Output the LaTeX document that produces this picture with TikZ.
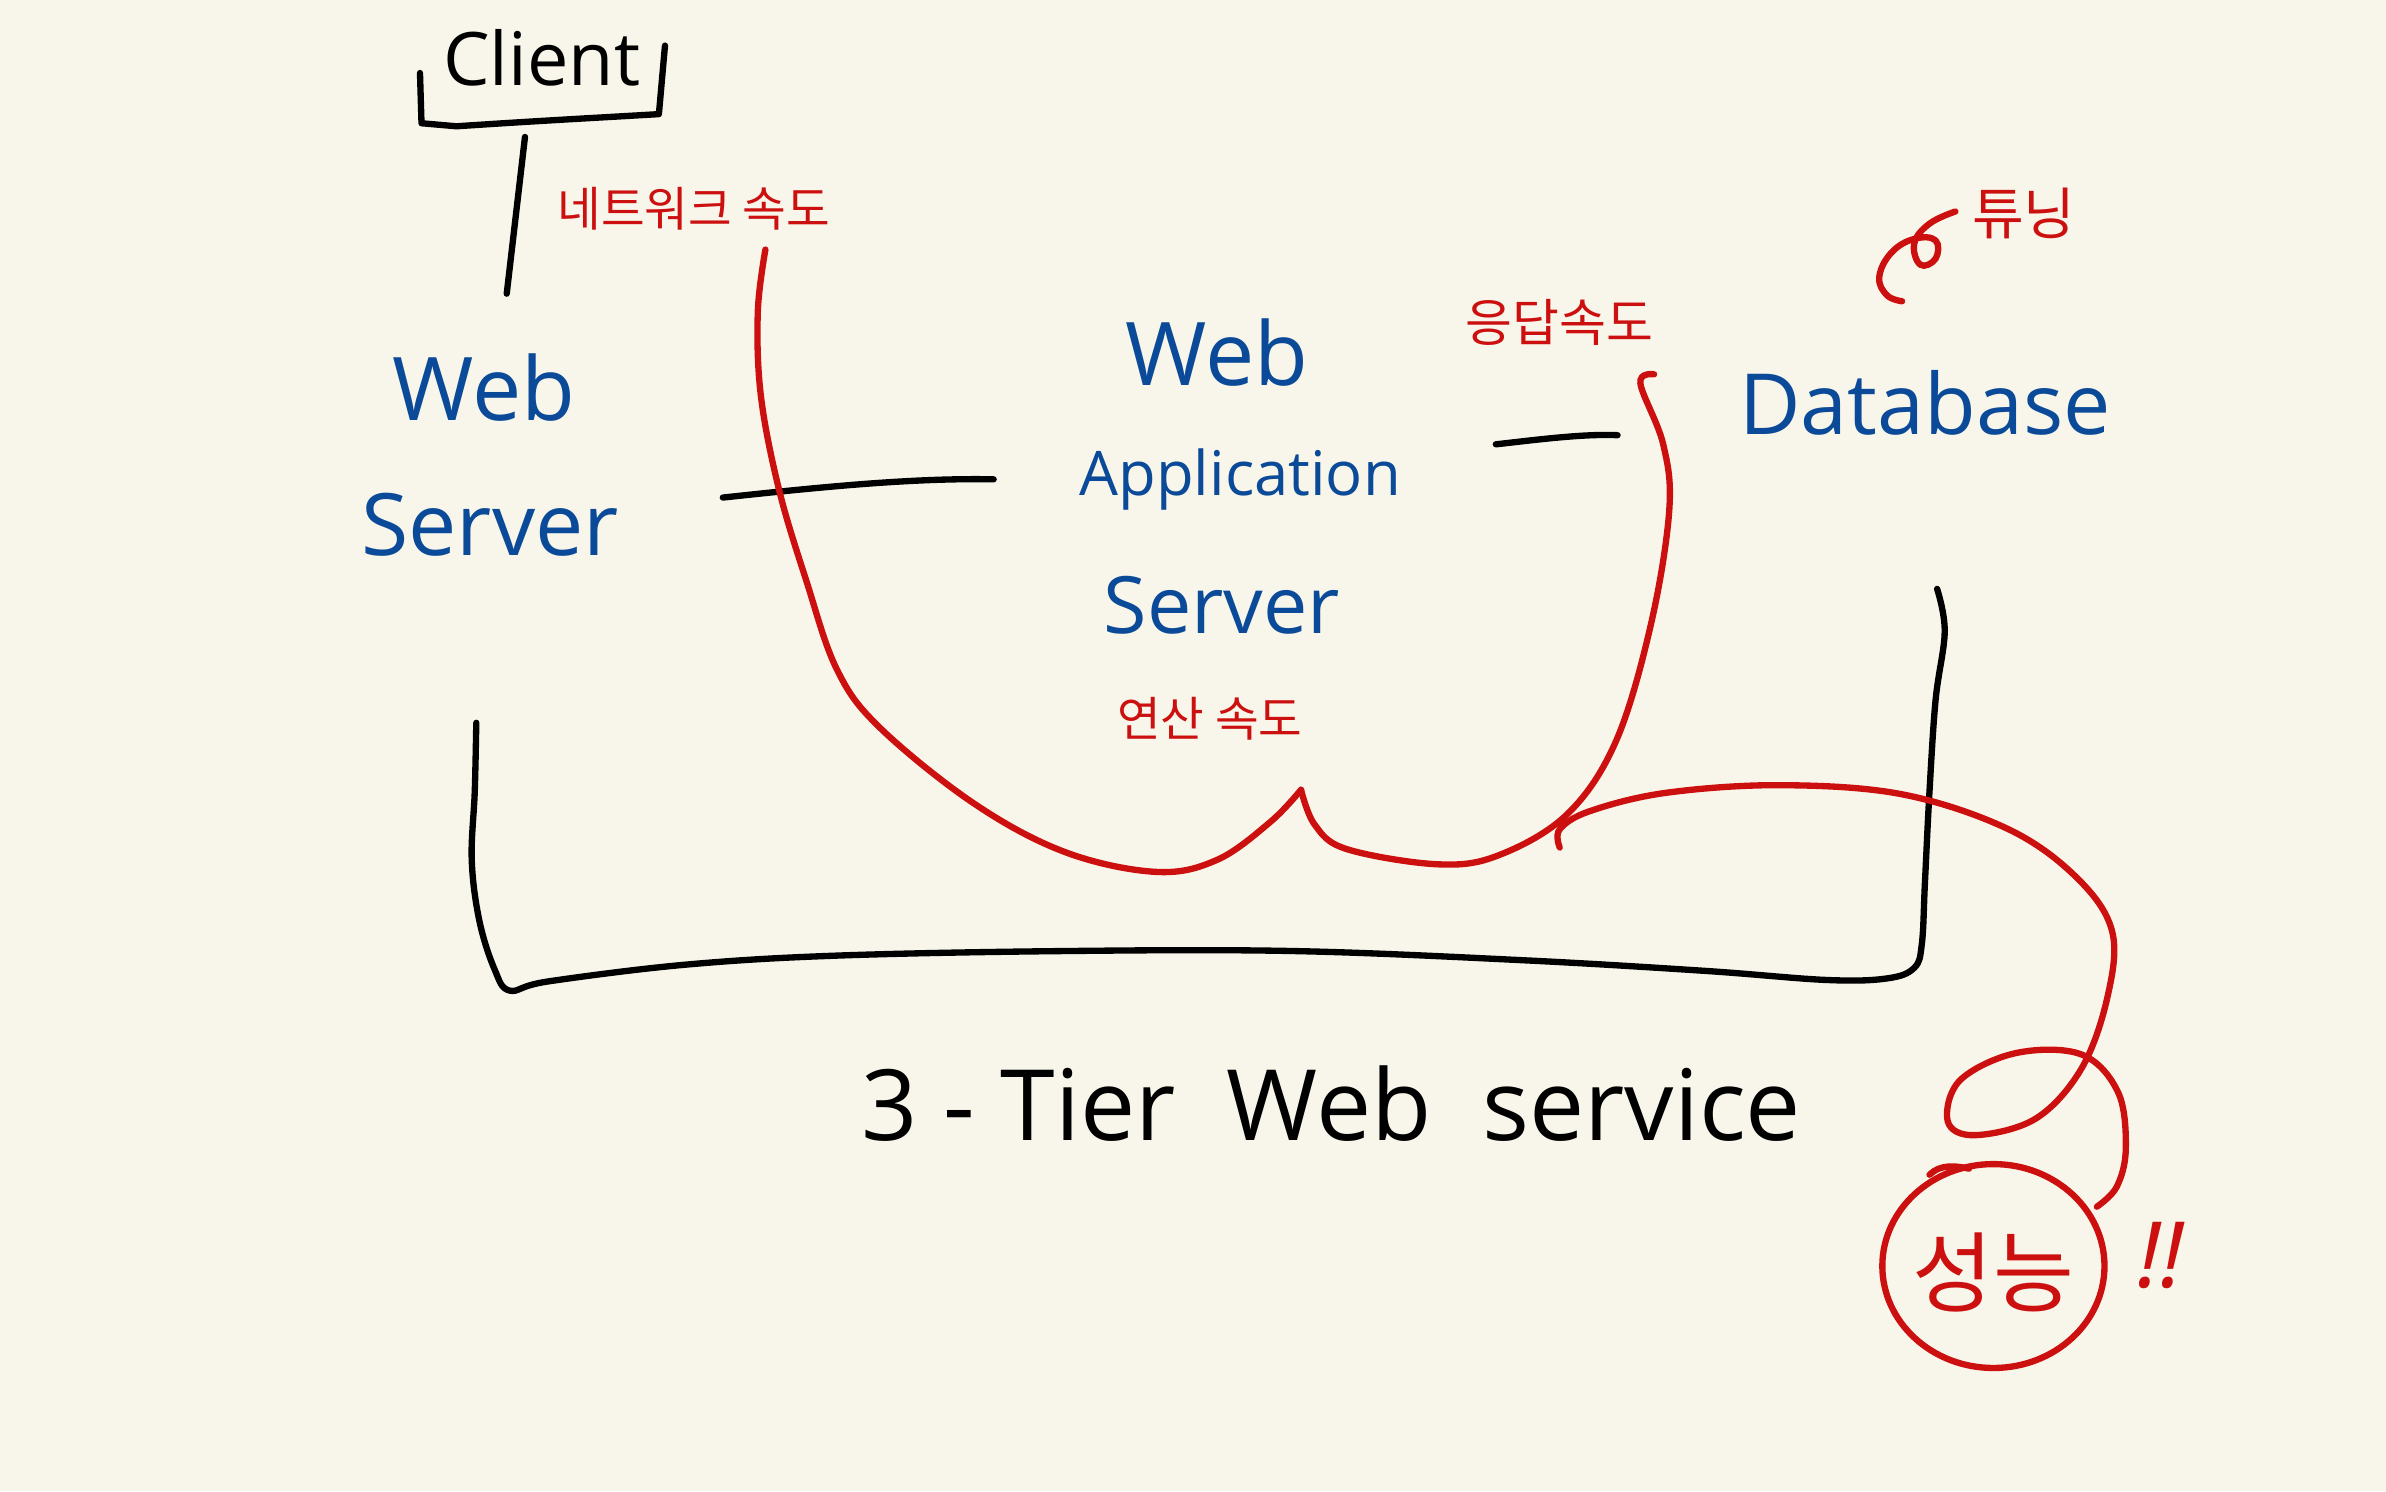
\documentclass[tikz,border=0pt]{standalone}
\usepackage{fontspec}
\setmainfont{Open Sans}
\newfontfamily\kr{Noto Sans CJK KR}
\definecolor{bg}{HTML}{F8F6EA}
\definecolor{inkblue}{HTML}{0B4A98}
\definecolor{inkred}{HTML}{CC1010}
\begin{document}
\begin{tikzpicture}[x=0.015217cm,y=-0.015217cm,
  pen/.style={line width=1.8pt,line cap=round,line join=round},
  blk/.style={pen,draw=black},
  redpen/.style={pen,draw=inkred},
  bluetxt/.style={text=inkblue,inner sep=0pt},
  redtxt/.style={text=inkred,inner sep=0pt,font=\kr\fontsize{13.5}{16}\selectfont},
  blktxt/.style={text=black,inner sep=0pt}]
\fill[bg] (0,0) rectangle (1568,980);
\useasboundingbox (0,0) rectangle (1568,980);

% texts
\node[blktxt,font=\fontsize{21}{26}\selectfont] (client) at (356,38) {Client};
\node[redtxt] (net) at (456,137) {네트워크 속도};
\node[bluetxt,font=\fontsize{25}{30}\selectfont] (ws1) at (318,255) {Web};
\node[bluetxt,font=\fontsize{24.5}{30}\selectfont] (ws2) at (322,345) {Server};
\node[bluetxt,font=\fontsize{25}{30}\selectfont] (was1) at (800,232) {Web};
\node[bluetxt,font=\fontsize{17.5}{22}\selectfont] (was2) at (815,315) {Application};
\node[bluetxt,font=\fontsize{22.5}{28}\selectfont] (was3) at (803,398) {Server};
\node[redtxt] (calc) at (795,472) {연산 속도};
\node[redtxt,font=\kr\fontsize{14.5}{18}\selectfont] (resp) at (1025,212) {응답속도};
\node[bluetxt,font=\fontsize{24}{30}\selectfont] (db) at (1265,265) {Database};
\node[redtxt,font=\kr\fontsize{16}{18}\selectfont] (tune) at (1330,140) {튜닝};
\node[blktxt,font=\fontsize{28}{34}\selectfont] (tier) at (875,725) {3 - Tier\ \ Web\ \ service};
\node[redtxt,font=\kr\fontsize{25}{28}\selectfont] (perf) at (1310,836) {성능};
\node[redtxt,font=\fontsize{26}{30}\selectfont\itshape] (bang) at (1420,825) {!!};

% coordinates for strokes
\coordinate (cl1) at (276,48);
\coordinate (cl2) at (437,30);
\coordinate (c1) at (345,90);
\coordinate (c2) at (333,193);
\coordinate (w1) at (475,327);
\coordinate (w2) at (653,315);
\coordinate (d1) at (983,292);
\coordinate (d2) at (1063,286);

% Client bracket
\draw[blk] (cl1) -- (277,81) -- (300,83) .. controls (360,79) and (400,77) .. (433,75) -- (cl2);
% Client - Web server
\draw[blk] (c1) -- (c2);
% Web server - WAS
\draw[blk] (w1) .. controls (540,320) and (600,314) .. (w2);
% WAS - DB
\draw[blk] (d1) .. controls (1010,289) and (1040,285) .. (d2);

% black brace
\draw[blk] plot[smooth,tension=0.6] coordinates {(313,475) (312,520) (310,565) (315,605) (325,637) (335,651) (360,645) (450,634) (550,628) (700,625) (850,625) (1000,631) (1120,638) (1200,644) (1240,643) (1258,636) (1263,620) (1265,580) (1268,520) (1272,460) (1278,415) (1273,387)};

% red brace
\draw[redpen] plot[smooth,tension=0.6] coordinates {(503,164) (498,205) (500,260) (512,322) (530,382) (550,440) (578,478) (640,528) (700,560) (760,573) (800,565) (835,540) (855,519)};
\draw[redpen] plot[smooth,tension=0.6] coordinates {(855,519) (864,542) (885,558) (945,568) (985,562) (1030,535) (1062,487) (1085,410) (1097,335) (1093,292) (1078,252) (1087,246)};

% swirl near tuning
\draw[redpen] plot[smooth,tension=0.7] coordinates {(1285,139) (1268,147) (1258,160) (1262,174) (1272,170) (1272,158) (1258,157) (1243,166) (1235,182) (1240,194) (1250,198)};

% red curve to performance
\draw[redpen] plot[smooth,tension=0.6] coordinates {(1025,557) (1025,545) (1045,533) (1095,521) (1170,516) (1250,522) (1320,545) (1365,577) (1388,612) (1385,655) (1368,702) (1338,735) (1298,746) (1280,737) (1288,710) (1325,692) (1368,693) (1392,718) (1397,755) (1391,780) (1378,793)};

% circle around performance
\draw[redpen] (1310,832) ellipse [x radius=73,y radius=67];
\draw[redpen] (1268,772) .. controls (1275,765) and (1285,766) .. (1294,768);
\end{tikzpicture}
\end{document}
